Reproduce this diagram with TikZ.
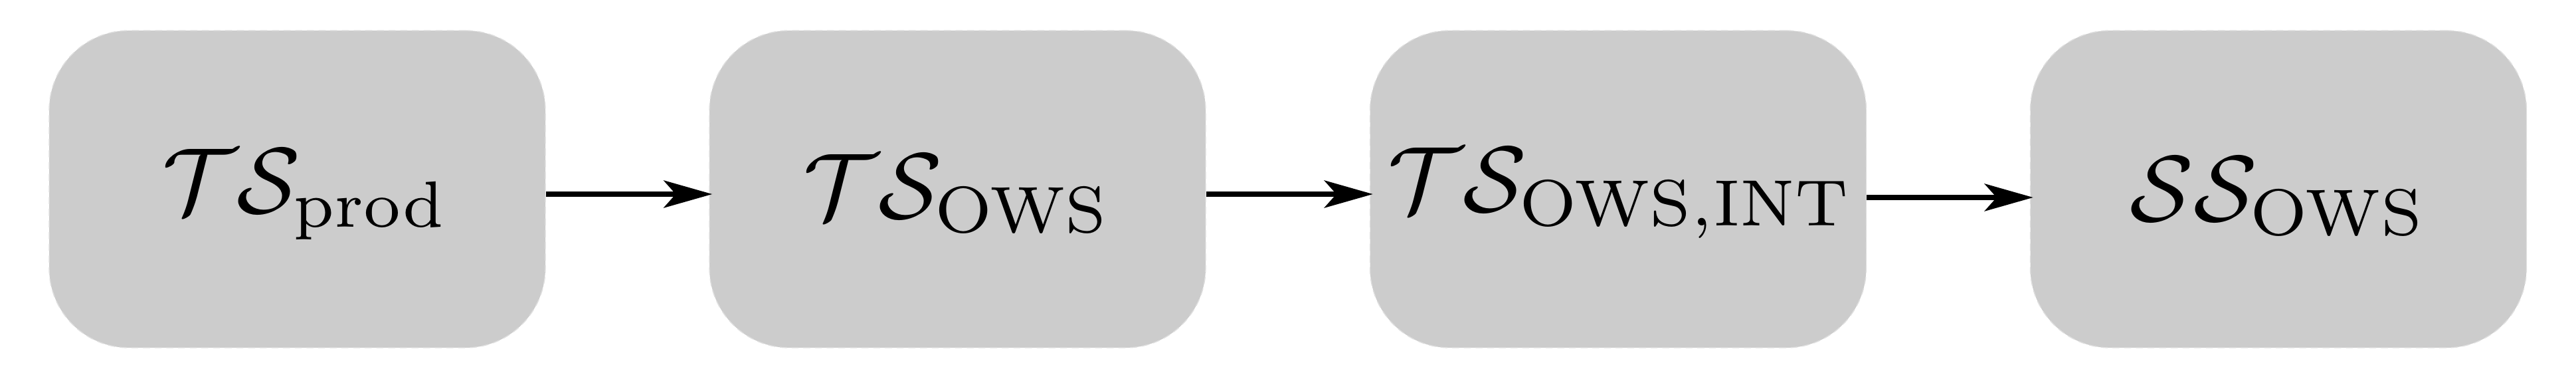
\documentclass[tikz,border=0pt]{standalone}
\usetikzlibrary{arrows.meta}
\tikzset{
  stagebox/.style={fill=gray!40, draw=gray!25, densely dashed, line width=0.4pt,
    rounded corners=1.2cm, minimum width=7.47cm, minimum height=4.77cm, inner sep=0pt},
  stagetext/.style={inner sep=0pt, scale=4, transform shape},
  flow/.style={line width=0.08cm, -{Stealth[length=0.73cm, width=0.41cm, inset=0.18cm]}, shorten >=-0.05cm}
}
\begin{document}
\begin{tikzpicture}
\useasboundingbox (0,0) rectangle (38.78,-5.70);
\node[stagebox] (b1) at (4.475,-2.845) {};
\node[stagebox] (b2) at (14.415,-2.845) {};
\node[stagebox] (b3) at (24.36,-2.845) {};
\node[stagebox] (b4) at (34.30,-2.845) {};
\node[stagetext] (t1) at (4.60,-2.93) {$\mathcal{T}\mathcal{S}_{\mathrm{prod}}$};
\node[stagetext] (t2) at (14.415,-2.91) {$\mathcal{T}\mathcal{S}_{\mathrm{OWS}}$};
\node[stagetext] (t3) at (24.40,-2.91) {$\mathcal{T}\mathcal{S}_{\mathrm{OWS},\mathrm{INT}}$};
\node[stagetext] (t4) at (34.30,-2.95) {$\mathcal{S}\mathcal{S}_{\mathrm{OWS}}$};
\draw[flow] ([yshift=-0.075cm]b1.east) -- ([yshift=-0.075cm]b2.west);
\draw[flow] ([yshift=-0.075cm]b2.east) -- ([yshift=-0.075cm]b3.west);
\draw[flow] ([yshift=-0.125cm]b3.east) -- ([yshift=-0.125cm]b4.west);
\end{tikzpicture}
\end{document}
